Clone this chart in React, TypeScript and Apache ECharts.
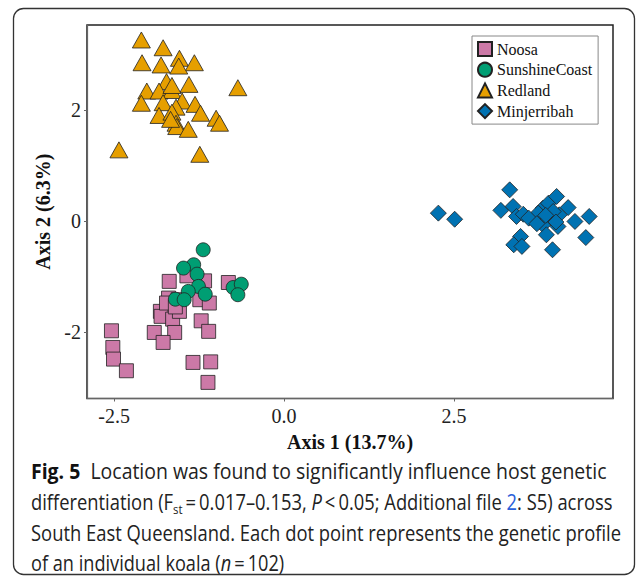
import React, { useEffect, useRef } from 'react';
import * as echarts from 'echarts';

const seriesNames = ['Noosa', 'SunshineCoast', 'Redland', 'Minjerribah'];
const seriesColors = ['#CC79A7', '#009E73', '#E69F00', '#0072B2'];

const noosaX = [-1.69, -1.43, -1.17, -0.82, -1.70, -1.56, -1.24, -1.10, -1.82, -1.68, -1.81, -1.64, -1.54, -1.22, -1.11, -1.91, -1.61, -1.78, -2.54, -2.52, -2.51, -2.32, -1.34, -1.08, -1.12, -1.73, -1.60];
const noosaY = [-1.09, -0.99, -1.08, -1.11, -1.39, -1.42, -1.42, -1.48, -1.63, -1.69, -1.72, -1.77, -1.63, -1.80, -1.99, -2.01, -2.01, -2.19, -1.98, -2.28, -2.49, -2.70, -2.55, -2.54, -2.91, -1.48, -1.55];

const sunshineX = [-1.19, -1.33, -1.48, -1.28, -1.26, -1.41, -1.16, -1.60, -1.47, -0.75, -0.63, -0.68];
const sunshineY = [-0.52, -0.79, -0.85, -0.96, -1.18, -1.27, -1.32, -1.41, -1.42, -1.20, -1.14, -1.33];

const redlandX = [-2.10, -1.78, -1.54, -1.32, -2.09, -1.81, -1.55, -1.73, -1.40, -0.68, -2.02, -1.84, -1.65, -1.65, -1.50, -2.10, -1.78, -1.59, -1.31, -1.23, -1.84, -1.65, -1.00, -0.95, -1.59, -1.58, -1.41, -2.43, -1.24, -1.67];
const redlandY = [3.26, 3.12, 2.93, 2.85, 2.85, 2.81, 2.79, 2.51, 2.46, 2.40, 2.34, 2.34, 2.35, 2.44, 2.16, 2.12, 2.13, 2.05, 2.10, 1.94, 1.90, 1.96, 1.85, 1.76, 1.76, 1.70, 1.65, 1.28, 1.20, 1.83];

const minjX = [2.27, 2.51, 3.32, 3.19, 3.37, 3.42, 3.52, 3.69, 3.81, 3.89, 4.01, 4.18, 3.81, 3.94, 4.03, 3.86, 4.28, 4.49, 4.44, 3.48, 3.38, 3.50, 3.95, 4.05, 3.74, 3.96, 3.60, 3.85, 3.72, 4.00];
const minjY = [0.14, 0.03, 0.56, 0.19, 0.26, 0.08, 0.12, 0.02, 0.23, 0.32, 0.44, 0.24, -0.07, 0.05, -0.10, -0.25, -0.01, 0.08, -0.30, -0.28, -0.43, -0.46, -0.52, 0.11, 0.14, 0.17, 0.05, 0.10, -0.05, -0.02];

const xTickValues = [-2.5, 0, 2.5];
const yTickValues = [-2, 0, 2];

const xTitle = 'Axis 1 (13.7%)';
const yTitle = 'Axis 2 (6.3%)';

const captionLines = [
  '{b|Fig. 5}  Location was found to significantly influence host genetic',
  'differentiation (F{sub|st}\u2009=\u20090.017\u20130.153, {i|P}\u2009<\u20090.05; Additional file {blue|2}: S5) across',
  'South East Queensland. Each dot point represents the genetic profile',
  'of an individual koala ({i|n}\u2009=\u2009102)',
];

const SERIF = 'Liberation Serif';
const SANS = 'Open Sans';

export default function App() {
  const ref = useRef<HTMLDivElement>(null);
  useEffect(() => {
    document.body.style.margin = '0';
    const chart = echarts.init(ref.current!, null, { renderer: 'svg' });
    const zip = (xs: number[], ys: number[]) => xs.map((x, i) => [x, ys[i]]);
    const symbols = ['rect', 'circle', 'triangle', 'diamond'];
    const sizes: any[] = [14, 14, [18, 16], [16, 16]];
    const datas = [zip(noosaX, noosaY), zip(sunshineX, sunshineY), zip(redlandX, redlandY), zip(minjX, minjY)];

    const FS = 21;
    const rich = {
      b: { fontFamily: SANS, fontWeight: 'bold', fontSize: FS, fill: '#111', color: '#111' },
      sub: { fontFamily: SANS, fontSize: 13, lineHeight: 13, verticalAlign: 'bottom', fill: '#222', color: '#222' },
      i: { fontFamily: SANS, fontStyle: 'italic', fontSize: FS, fill: '#222', color: '#222' },
      blue: { fontFamily: SANS, fontSize: FS, fill: '#2b5fd9', color: '#2b5fd9' },
    };
    const lineYs = [471, 502, 533, 563];
    const lineScales = [0.927, 0.874, 0.876, 0.865];

    chart.setOption({
      animation: false,
      backgroundColor: '#fff',
      grid: { left: 87, right: 24, top: 25, bottom: 177.5, show: true, borderColor: '#222', borderWidth: 1.5, backgroundColor: '#fff' },
      legend: {
        orient: 'vertical',
        left: 472,
        top: 36,
        data: seriesNames,
        itemWidth: 14,
        itemHeight: 14,
        itemGap: 4.7,
        padding: [5, 6, 5, 5],
        borderColor: '#888',
        borderWidth: 1,
        backgroundColor: '#fff',
        selectedMode: false,
        textStyle: { fontFamily: SERIF, fontSize: 16, color: '#111' },
      },
      xAxis: {
        type: 'value',
        min: -2.9,
        max: 4.84,
        name: xTitle,
        nameLocation: 'middle',
        nameGap: 33,
        nameTextStyle: { fontFamily: SERIF, fontWeight: 'bold', fontSize: 20, color: '#111' },
        axisLine: { show: true, onZero: false, lineStyle: { color: '#666', width: 1.2 } },
        axisTick: { show: true, length: 3, customValues: xTickValues, lineStyle: { color: '#666' } },
        axisLabel: { customValues: xTickValues, formatter: (v: number) => v.toFixed(1), fontFamily: SERIF, fontSize: 20, color: '#222', margin: 7 },
        splitLine: { show: false },
      },
      yAxis: {
        type: 'value',
        min: -3.2,
        max: 3.53,
        name: yTitle,
        nameLocation: 'middle',
        nameGap: 32,
        nameTextStyle: { fontFamily: SERIF, fontWeight: 'bold', fontSize: 20, color: '#111' },
        axisLine: { show: true, onZero: false, lineStyle: { color: '#666', width: 1.2 } },
        axisTick: { show: true, length: 3, customValues: yTickValues, lineStyle: { color: '#666' } },
        axisLabel: { customValues: yTickValues, formatter: (v: number) => String(v), fontFamily: SERIF, fontSize: 20, color: '#222', margin: 6 },
        splitLine: { show: false },
      },
      series: seriesNames.map((name, k) => ({
        name,
        type: 'scatter',
        data: datas[k],
        symbol: symbols[k],
        symbolSize: sizes[k],
        itemStyle: { color: seriesColors[k], borderColor: '#222', borderWidth: 0.8, opacity: 1 },
      })),
      graphic: [
        {
          type: 'rect',
          silent: true,
          z: -10,
          shape: { x: 13.5, y: 8.5, width: 621, height: 566, r: 10 },
          style: { fill: 'none', stroke: '#333', lineWidth: 1.3 },
        },
        ...captionLines.map((t, i) => ({
          type: 'text',
          x: 31,
          y: lineYs[i],
          scaleX: lineScales[i],
          silent: true,
          style: {
            text: t,
            rich,
            fontFamily: SANS,
            fontSize: FS,
            lineHeight: 27,
            fill: '#222',
            align: 'left',
            verticalAlign: 'middle',
            textAlign: 'left',
            textVerticalAlign: 'middle',
          },
        })),
      ],
    });
    return () => chart.dispose();
  }, []);
  return <div ref={ref} style={{ width: 637, height: 576 }} />;
}
